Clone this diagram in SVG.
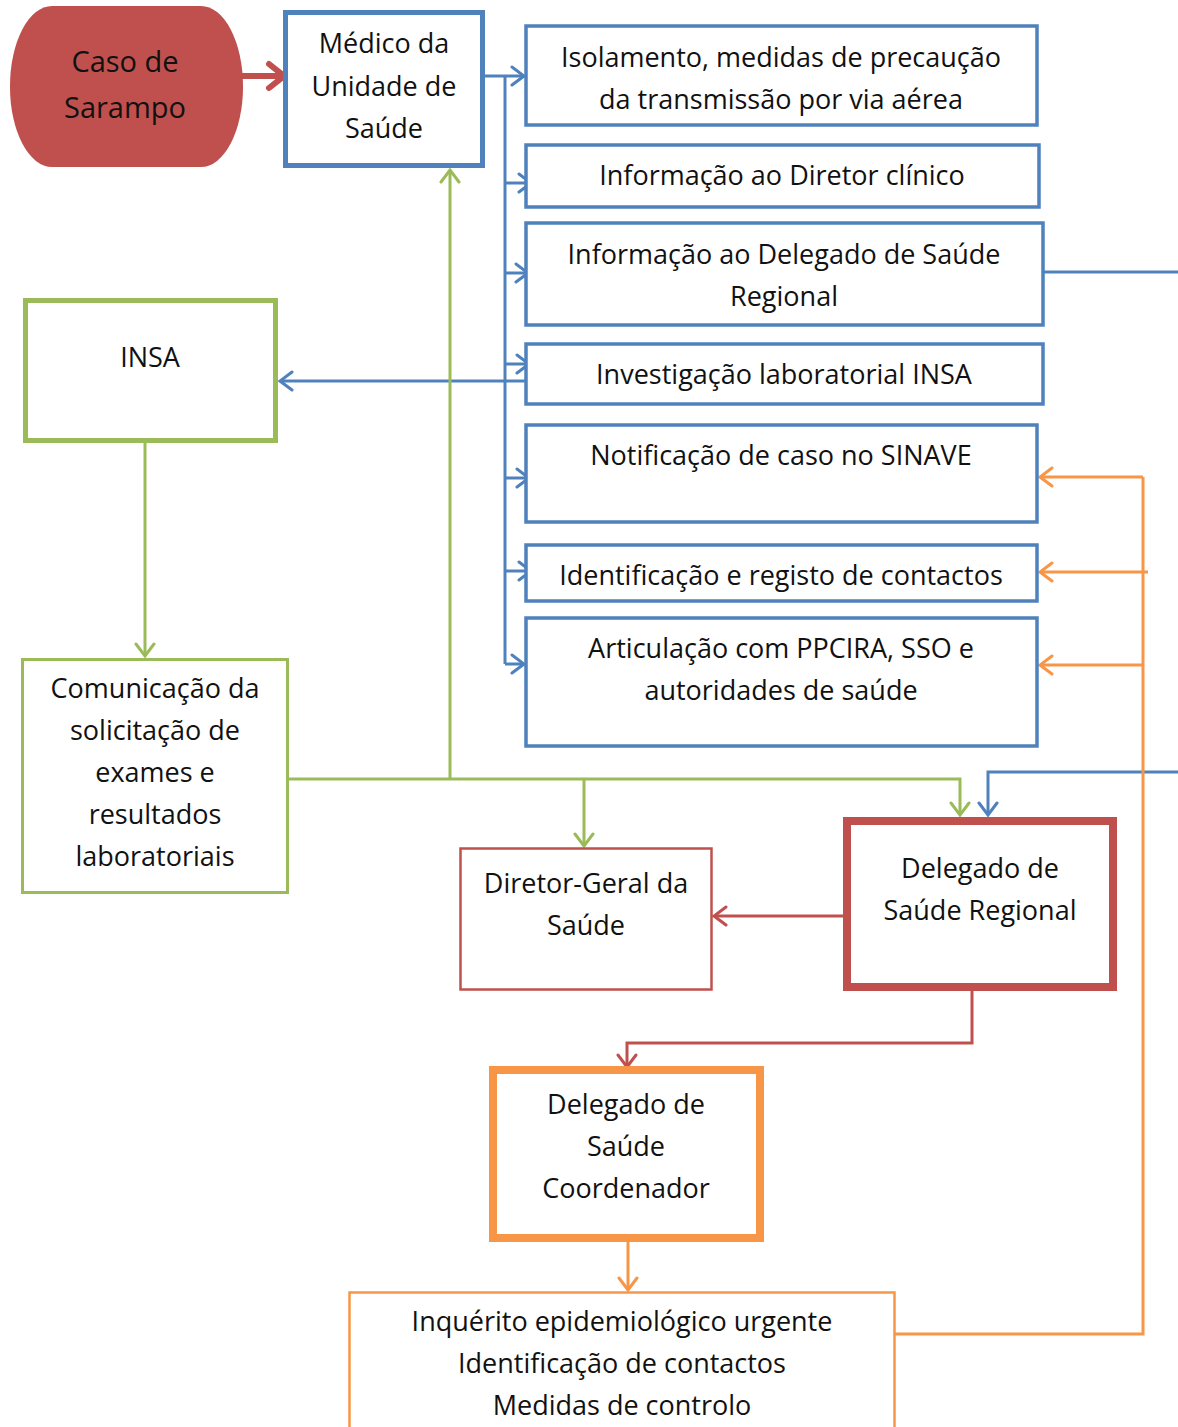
<svg xmlns="http://www.w3.org/2000/svg" width="1178" height="1427" viewBox="0 0 1178 1427">
<style>
text{font-family:"Open Sans","Noto Sans","DejaVu Sans",sans-serif;font-size:27px;fill:#111;text-anchor:middle}
.b{fill:#fff;stroke:#4F81BD;stroke-width:3.5}
.bl{fill:none;stroke:#4F81BD;stroke-width:3}
.gl{fill:none;stroke:#9BBB59;stroke-width:3}
.rl{fill:none;stroke:#C0504D;stroke-width:3}
.ol{fill:none;stroke:#F79646;stroke-width:3}
</style>
<defs>
<marker id="ab" markerUnits="userSpaceOnUse" viewBox="0 0 16 22" refX="14" refY="11" markerWidth="16" markerHeight="22" orient="auto"><path d="M2,2 L14,11 L2,20" fill="none" stroke="#4F81BD" stroke-width="3" stroke-linecap="round"/></marker>
<marker id="ag" markerUnits="userSpaceOnUse" viewBox="0 0 16 22" refX="14" refY="11" markerWidth="16" markerHeight="22" orient="auto"><path d="M2,2 L14,11 L2,20" fill="none" stroke="#9BBB59" stroke-width="3" stroke-linecap="round"/></marker>
<marker id="ar" markerUnits="userSpaceOnUse" viewBox="0 0 16 22" refX="14" refY="11" markerWidth="16" markerHeight="22" orient="auto"><path d="M2,2 L14,11 L2,20" fill="none" stroke="#C0504D" stroke-width="3" stroke-linecap="round"/></marker>
<marker id="ao" markerUnits="userSpaceOnUse" viewBox="0 0 16 22" refX="14" refY="11" markerWidth="16" markerHeight="22" orient="auto"><path d="M2,2 L14,11 L2,20" fill="none" stroke="#F79646" stroke-width="3" stroke-linecap="round"/></marker>
<marker id="arb" markerUnits="userSpaceOnUse" viewBox="0 0 24 32" refX="20" refY="16" markerWidth="24" markerHeight="32" orient="auto"><path d="M5,4 L20,16 L5,28" fill="none" stroke="#C0504D" stroke-width="6" stroke-linecap="round"/></marker>
</defs>
<rect width="1178" height="1427" fill="#fff"/>

<g id="connectors">
<line x1="240" y1="76" x2="284" y2="76" stroke="#C0504D" stroke-width="6" marker-end="url(#arb)"/>
<line class="bl" x1="485" y1="76" x2="524" y2="76" marker-end="url(#ab)"/>
<line class="bl" x1="505" y1="76" x2="505" y2="664"/>
<line class="bl" x1="505" y1="183" x2="531" y2="183" marker-end="url(#ab)"/>
<line class="bl" x1="505" y1="273" x2="528" y2="273" marker-end="url(#ab)"/>
<line class="bl" x1="505" y1="364" x2="529" y2="364" marker-end="url(#ab)"/>
<line class="bl" x1="505" y1="478" x2="529" y2="478" marker-end="url(#ab)"/>
<line class="bl" x1="505" y1="571" x2="531" y2="571" marker-end="url(#ab)"/>
<line class="bl" x1="505" y1="664" x2="524" y2="664" marker-end="url(#ab)"/>
<line class="bl" x1="526" y1="381" x2="280" y2="381" marker-end="url(#ab)"/>
<line class="bl" x1="1043" y1="272" x2="1178" y2="272"/>
<polyline class="bl" points="1178,772 988,772 988,815" marker-end="url(#ab)"/>
<line class="gl" x1="145" y1="441" x2="145" y2="656" marker-end="url(#ag)"/>
<polyline class="gl" points="288,779 960,779 960,815" marker-end="url(#ag)"/>
<line class="gl" x1="450" y1="779" x2="450" y2="170" marker-end="url(#ag)"/>
<line class="gl" x1="584" y1="779" x2="584" y2="846" marker-end="url(#ag)"/>
<line class="rl" x1="843" y1="916" x2="714" y2="916" marker-end="url(#ar)"/>
<polyline class="rl" points="972,990 972,1043 627,1043 627,1067" marker-end="url(#ar)"/>
<line class="ol" x1="628" y1="1241" x2="628" y2="1290" marker-end="url(#ao)"/>
<polyline class="ol" points="895,1334 1143,1334 1143,477"/>
<line class="ol" x1="1143" y1="477" x2="1040" y2="477" marker-end="url(#ao)"/>
<line class="ol" x1="1148" y1="572" x2="1040" y2="572" marker-end="url(#ao)"/>
<line class="ol" x1="1143" y1="665" x2="1040" y2="665" marker-end="url(#ao)"/>
</g>

<g id="caso">
<rect x="10" y="6" width="233" height="161" rx="42" ry="80" fill="#C0504D"/>
<text x="125" y="72" style="font-size:29px">Caso de</text>
<text x="125" y="118" style="font-size:29px">Sarampo</text>
</g>

<g id="medico">
<rect x="285.5" y="12.5" width="197" height="153" fill="#fff" stroke="#4F81BD" stroke-width="5"/>
<text x="384" y="53">Médico da</text>
<text x="384" y="96">Unidade de</text>
<text x="384" y="138">Saúde</text>
</g>

<g id="isolamento">
<rect class="b" x="526" y="26" width="511" height="99"/>
<text x="781" y="67">Isolamento, medidas de precaução</text>
<text x="781" y="109">da transmissão por via aérea</text>
</g>
<g id="diretor-clinico">
<rect class="b" x="526" y="145" width="513" height="62"/>
<text x="782" y="185">Informação ao Diretor clínico</text>
</g>
<g id="info-delegado">
<rect class="b" x="526" y="223" width="517" height="102"/>
<text x="784" y="264">Informação ao Delegado de Saúde</text>
<text x="784" y="306">Regional</text>
</g>
<g id="investigacao">
<rect class="b" x="526" y="344" width="517" height="60"/>
<text x="784" y="384">Investigação laboratorial INSA</text>
</g>
<g id="notificacao">
<rect class="b" x="526" y="425" width="511" height="97"/>
<text x="781" y="465">Notificação de caso no SINAVE</text>
</g>
<g id="identificacao">
<rect class="b" x="526" y="545" width="511" height="56"/>
<text x="781" y="585">Identificação e registo de contactos</text>
</g>
<g id="articulacao">
<rect class="b" x="526" y="618" width="511" height="128"/>
<text x="781" y="658">Articulação com PPCIRA, SSO e</text>
<text x="781" y="700">autoridades de saúde</text>
</g>

<g id="insa">
<rect x="25.5" y="300.5" width="250" height="140" fill="#fff" stroke="#9BBB59" stroke-width="5"/>
<text x="150" y="367">INSA</text>
</g>

<g id="comunicacao">
<rect x="22.5" y="659.5" width="265" height="233" fill="#fff" stroke="#9BBB59" stroke-width="3"/>
<text x="155" y="698">Comunicação da</text>
<text x="155" y="740">solicitação de</text>
<text x="155" y="782">exames e</text>
<text x="155" y="824">resultados</text>
<text x="155" y="866">laboratoriais</text>
</g>

<g id="diretor-geral">
<rect x="460.5" y="848.5" width="251" height="141" fill="#fff" stroke="#C0504D" stroke-width="2.5"/>
<text x="586" y="893">Diretor-Geral da</text>
<text x="586" y="935">Saúde</text>
</g>

<g id="delegado-regional">
<rect x="847" y="821" width="266" height="166" fill="#fff" stroke="#C0504D" stroke-width="8"/>
<text x="980" y="878">Delegado de</text>
<text x="980" y="920">Saúde Regional</text>
</g>

<g id="delegado-coordenador">
<rect x="493" y="1070" width="267" height="168" fill="#fff" stroke="#F79646" stroke-width="8"/>
<text x="626" y="1114">Delegado de</text>
<text x="626" y="1156">Saúde</text>
<text x="626" y="1198">Coordenador</text>
</g>

<g id="inquerito">
<rect x="349.5" y="1292.5" width="545" height="150" fill="#fff" stroke="#F79646" stroke-width="2.5"/>
<text x="622" y="1331">Inquérito epidemiológico urgente</text>
<text x="622" y="1373">Identificação de contactos</text>
<text x="622" y="1415">Medidas de controlo</text>
</g>
</svg>
